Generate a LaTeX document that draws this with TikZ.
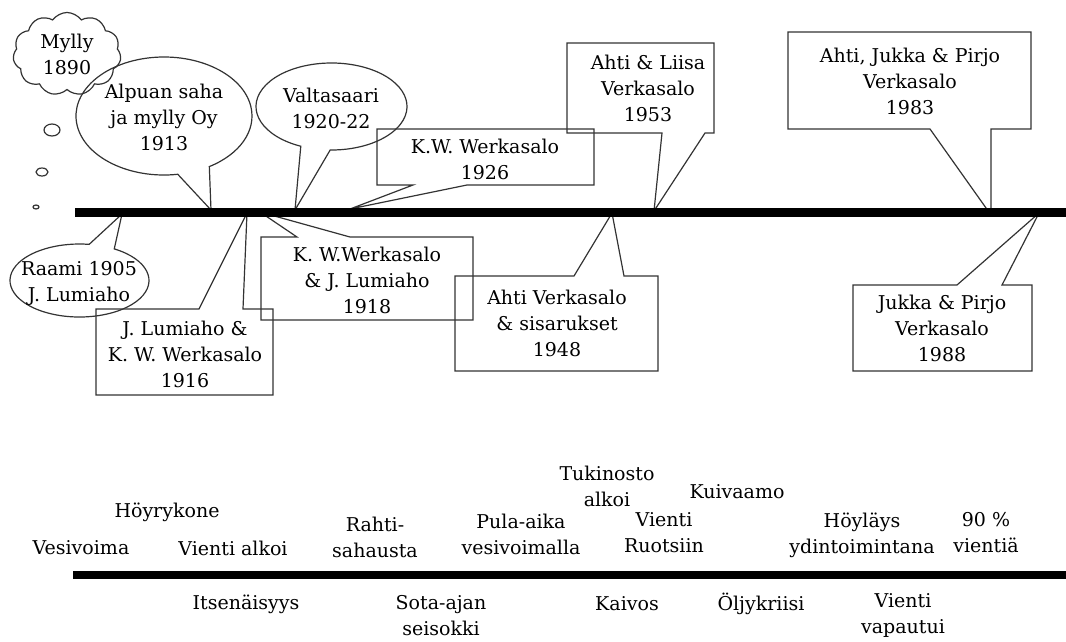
\documentclass[tikz,border=0pt]{standalone}
\usepackage{fontspec}
\setmainfont{DejaVu Serif}
\usetikzlibrary{shapes.symbols}
\begin{document}
\begin{tikzpicture}[x=1pt,y=-1pt,
  ol/.style={draw=black!80, line width=1.2pt, line join=miter},
  lbl/.style={font=\fontsize{19}{26}\selectfont, align=center, inner sep=0pt},
  barstyle/.style={fill=black, inner sep=0pt, anchor=west}]
\useasboundingbox (0,0) rectangle (1066,641);

% tips on the timeline
\coordinate (t1913) at (211,210);
\coordinate (t1920) at (295,210);
\coordinate (t1926) at (350,209);
\coordinate (t1953) at (654,211);
\coordinate (t1983) at (991,215);
\coordinate (t1905) at (122,214);
\coordinate (t1916) at (247,213);
\coordinate (t1918) at (260,212);
\coordinate (t1948) at (612,213);
\coordinate (t1988) at (1039,213);

% thought cloud
\node[cloud, ol, lbl, cloud puffs=11, cloud puff arc=110, minimum width=108pt, minimum height=80pt] (mylly) at (67,54) {Mylly\\1890};
\draw[ol] (52,130) ellipse [x radius=8, y radius=6];
\draw[ol] (42,172) ellipse [x radius=6, y radius=4];
\draw[ol] (36,207) ellipse [x radius=3, y radius=2];

% ellipse callouts
\draw[ol] ([shift={(164,116)}]81:88 and 59) arc[start angle=81, end angle=419, x radius=88, y radius=59] -- (t1913) -- cycle;
\node[lbl] (alpuan) at (164,117) {Alpuan saha\\ja mylly Oy\\1913};

\draw[ol] ([shift={(331.5,106.5)}]114:75.5 and 43.5) arc[start angle=114, end angle=451, x radius=75.5, y radius=43.5] -- (t1920) -- cycle;
\node[lbl] (valta) at (331,108) {Valtasaari\\1920-22};

\draw[ol] ([shift={(79.5,280.5)}]-60:69.5 and 36.5) arc[start angle=-60, end angle=278, x radius=69.5, y radius=36.5] -- (t1905) -- cycle;
\node[lbl] (raami) at (79,283) {Raami 1905\\J. Lumiaho};

% rectangle callouts above
\draw[ol] (377,129) -- (594,129) -- (594,185) -- (467,185) -- (t1926) -- (413,185) -- (377,185) -- cycle;
\node[lbl] (kw1926) at (485,159) {K.W. Werkasalo\\1926};

\draw[ol] (567,43) -- (714,43) -- (714,133) -- (705,133) -- (t1953) -- (662,133) -- (567,133) -- cycle;
\node[lbl] (al1953) at (648,88) {Ahti \& Liisa\\Verkasalo\\1953};

\draw[ol] (788,32) -- (1031,32) -- (1031,129) -- (991,129) -- (t1983) -- (930,129) -- (788,129) -- cycle;
\node[lbl] (ajp1983) at (910,81) {Ahti, Jukka \& Pirjo\\Verkasalo\\1983};

% rectangle callouts below
\draw[ol] (96,309) -- (199,309) -- (t1916) -- (243,309) -- (273,309) -- (273,395) -- (96,395) -- cycle;
\node[lbl] (jl1916) at (185,354) {J. Lumiaho \&\\K. W. Werkasalo\\1916};

\draw[ol] (261,237) -- (297,237) -- (t1918) -- (350,237) -- (473,237) -- (473,320) -- (261,320) -- cycle;
\node[lbl] (kw1918) at (367,280) {K. W.Werkasalo\\\& J. Lumiaho\\1918};

\draw[ol] (455,276) -- (574,276) -- (t1948) -- (624,276) -- (658,276) -- (658,371) -- (455,371) -- cycle;
\node[lbl] (av1948) at (557,323) {Ahti Verkasalo\\\& sisarukset\\1948};

\draw[ol] (853,285) -- (957,285) -- (t1988) -- (1002,285) -- (1032,285) -- (1032,371) -- (853,371) -- cycle;
\node[lbl] (jp1988) at (942,328) {Jukka \& Pirjo\\Verkasalo\\1988};

% top timeline bar
\node[barstyle, minimum width=991pt, minimum height=9pt] (axis1) at (75,212.5) {};

% bottom timeline
\node[barstyle, minimum width=993pt, minimum height=8.5pt] (axis2) at (73,575) {};

\node[lbl] (vesi) at (81,548) {Vesivoima};
\node[lbl] (hoyry) at (167,512) {Höyrykone};
\node[lbl] (vienti1) at (233,548) {Vienti alkoi};
\node[lbl] (rahti) at (375,537) {Rahti-\\sahausta};
\node[lbl] (pula) at (521,534) {Pula-aika\\vesivoimalla};
\node[lbl] (tukki) at (607,486) {Tukinosto\\alkoi};
\node[lbl] (ruotsi) at (664,533) {Vienti\\Ruotsiin};
\node[lbl] (kuiva) at (737,492) {Kuivaamo};
\node[lbl] (hoyla) at (862,535) {Höyläys\\ydintoimintana};
\node[lbl] (yhdeks) at (986,533) {90 \%\\vientiä};

\node[lbl] (itsen) at (246,604) {Itsenäisyys};
\node[lbl] (sota) at (441,616) {Sota-ajan\\seisokki};
\node[lbl] (kaivos) at (627,604) {Kaivos};
\node[lbl] (oljy) at (761,604) {Öljykriisi};
\node[lbl] (vapaa) at (903,615) {Vienti\\vapautui};
\end{tikzpicture}
\end{document}
